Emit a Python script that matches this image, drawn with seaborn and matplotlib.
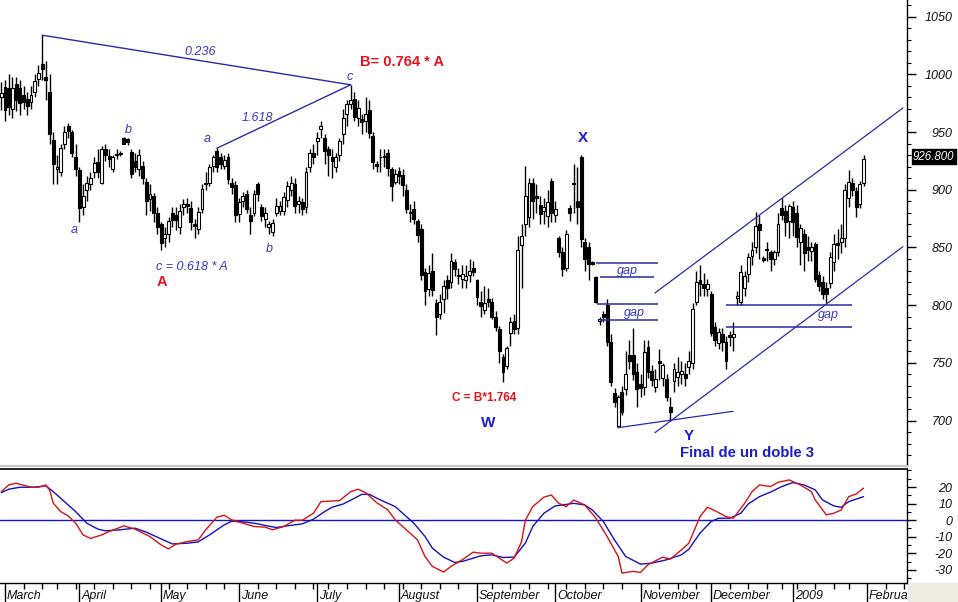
import numpy as np
import pandas as pd
import matplotlib
matplotlib.use("Agg")
import matplotlib.pyplot as plt
import matplotlib.transforms as mtransforms
from matplotlib.patches import Rectangle
from matplotlib.ticker import FixedLocator, MultipleLocator, NullFormatter
import seaborn as sns

sns.set_style("white")
plt.rcParams['font.family'] = ['Liberation Sans', 'DejaVu Sans']

# exchange holidays (no bar on these days)
holidays = ['2008-03-21', '2008-05-26', '2008-07-04', '2008-09-01',
            '2008-11-27', '2008-12-25', '2009-01-01', '2009-01-19']
month_labels = ['March', 'April', 'May', 'June', 'July', 'August', 'September',
                'October', 'November', 'December', '2009', 'February']

# daily candles, 29 Feb 2008 .. 30 Jan 2009
opens = [980, 989, 988, 970, 992, 988, 982, 979, 976, 985,
         996, 1009, 998, 985, 943, 918, 915, 940, 955, 950,
         928, 917, 885, 900, 905, 915, 924, 906, 935, 929,
         918, 930, 931, 945, 944, 933, 925, 918, 921, 907,
         892, 895, 880, 870, 858, 862, 880, 878, 868, 885,
         888, 884, 870, 866, 883, 906, 906, 921, 934, 928,
         921, 928, 906, 904, 879, 890, 896, 878, 880, 905,
         885, 875, 868, 863, 880, 882, 882, 891, 900, 905,
         888, 889, 885, 920, 932, 942, 953, 945, 935, 928,
         920, 930, 948, 966, 974, 979, 962, 961, 960, 969,
         947, 922, 928, 928, 932, 918, 907, 916, 913, 900,
         880, 883, 873, 866, 829, 814, 830, 802, 792, 805,
         822, 820, 837, 826, 823, 822, 826, 832, 822, 803,
         796, 805, 803, 790, 779, 755, 747, 776, 786, 780,
         852, 870, 876, 906, 895, 887, 882, 877, 908, 878,
         858, 846, 832, 884, 905, 890, 928, 855, 850, 837,
         824, 786, 792, 800, 768, 724, 695, 725, 727, 757,
         757, 742, 732, 729, 764, 743, 729, 752, 737, 736,
         712, 734, 738, 740, 740, 746, 750, 803, 822, 818,
         814, 810, 781, 767, 775, 768, 774, 772, 806, 803,
         815, 827, 843, 850, 870, 841, 849, 846, 840, 846,
         884, 882, 873, 885, 880, 855, 862, 850, 847, 853,
         826, 820, 815, 819, 837, 854, 855, 858, 893, 906,
         899, 888, 906]
highs = [993, 995, 1000, 998, 998, 995, 990, 985, 990, 1000,
         1008, 1034, 1012, 1000, 950, 930, 940, 955, 958, 952,
         940, 920, 905, 912, 915, 928, 935, 938, 940, 935,
         930, 935, 934, 946, 945, 935, 932, 935, 925, 910,
         905, 897, 885, 872, 868, 876, 885, 885, 888, 892,
         893, 890, 875, 885, 905, 915, 922, 930, 936, 932,
         930, 932, 910, 908, 893, 898, 900, 885, 900, 907,
         888, 885, 873, 875, 893, 890, 898, 908, 912, 910,
         895, 893, 920, 935, 940, 950, 960, 948, 938, 935,
         932, 945, 970, 978, 991, 985, 978, 966, 980, 978,
         950, 925, 935, 935, 935, 920, 918, 920, 918, 905,
         888, 890, 875, 870, 832, 835, 845, 805, 810, 822,
         826, 845, 840, 832, 835, 835, 840, 838, 823, 812,
         817, 815, 806, 795, 782, 758, 765, 790, 792, 860,
         870, 921, 910, 910, 905, 895, 893, 900, 910, 890,
         860, 850, 865, 887, 922, 920, 930, 858, 855, 838,
         825, 790, 795, 805, 775, 728, 722, 730, 760, 770,
         780, 750, 740, 770, 770, 748, 745, 762, 750, 740,
         720, 750, 755, 752, 750, 760, 802, 830, 835, 828,
         823, 812, 785, 780, 780, 773, 778, 785, 812, 835,
         830, 845, 855, 881, 878, 843, 855, 848, 848, 880,
         893, 887, 888, 890, 887, 870, 866, 860, 855, 855,
         830, 825, 820, 846, 862, 866, 870, 905, 917, 910,
         902, 908, 930]
lows = [969, 960, 965, 962, 968, 965, 970, 965, 970, 980,
        990, 995, 978, 940, 905, 905, 912, 935, 945, 928,
        912, 872, 878, 890, 900, 910, 910, 905, 925, 920,
        915, 927, 929, 940, 939, 910, 915, 912, 905, 878,
        882, 872, 862, 848, 850, 855, 868, 865, 862, 878,
        880, 865, 858, 862, 880, 900, 903, 915, 915, 918,
        918, 905, 896, 872, 872, 885, 880, 862, 877, 890,
        873, 868, 862, 860, 877, 878, 878, 885, 895, 880,
        880, 878, 880, 915, 922, 930, 945, 922, 912, 910,
        915, 925, 940, 955, 970, 960, 955, 948, 950, 945,
        918, 915, 915, 920, 912, 890, 905, 905, 895, 880,
        872, 870, 855, 822, 800, 808, 808, 774, 788, 793,
        805, 815, 825, 818, 815, 815, 820, 825, 800, 790,
        792, 798, 788, 778, 750, 733, 745, 765, 775, 775,
        815, 860, 868, 875, 880, 870, 870, 868, 872, 872,
        842, 825, 830, 873, 880, 870, 850, 830, 822, 835,
        802, 783, 785, 765, 730, 712, 694, 705, 722, 745,
        735, 712, 720, 722, 737, 730, 725, 735, 730, 717,
        700, 725, 730, 732, 730, 740, 745, 800, 808, 808,
        808, 773, 765, 762, 760, 745, 765, 760, 800, 800,
        808, 820, 835, 845, 840, 837, 838, 830, 835, 843,
        874, 860, 858, 860, 850, 835, 830, 838, 838, 820,
        812, 805, 802, 815, 830, 840, 845, 850, 885, 895,
        876, 884, 903]
closes = [984, 969, 972, 988, 978, 975, 976, 973, 982, 994,
          1001, 1005, 995, 948, 922, 920, 936, 950, 951, 932,
          918, 884, 895, 906, 910, 923, 915, 935, 930, 927,
          928, 931, 931, 940, 941, 914, 920, 930, 910, 890,
          896, 880, 868, 854, 862, 873, 874, 874, 882, 888,
          886, 872, 869, 881, 901, 905, 920, 928, 920, 922,
          926, 909, 902, 878, 889, 895, 883, 873, 896, 896,
          877, 880, 870, 871, 886, 886, 894, 903, 906, 886,
          890, 883, 915, 932, 928, 945, 955, 934, 930, 925,
          928, 942, 962, 974, 978, 963, 971, 959, 966, 949,
          924, 921, 928, 929, 919, 903, 914, 912, 904, 883,
          880, 875, 861, 826, 812, 828, 813, 790, 803, 817,
          815, 838, 831, 825, 827, 825, 830, 829, 807, 799,
          802, 803, 790, 781, 760, 742, 763, 785, 779, 848,
          860, 895, 906, 890, 893, 879, 885, 889, 880, 883,
          846, 831, 862, 880, 906, 885, 857, 840, 836, 836,
          803, 788, 790, 768, 733, 716, 720, 707, 740, 752,
          740, 727, 728, 759, 742, 735, 736, 750, 748, 720,
          707, 745, 742, 743, 737, 752, 797, 820, 818, 815,
          818, 776, 770, 777, 768, 752, 772, 775, 808, 829,
          825, 842, 848, 869, 865, 839, 848, 840, 846, 870,
          878, 872, 886, 872, 859, 867, 845, 848, 850, 823,
          817, 810, 810, 842, 853, 852, 858, 900, 907, 900,
          885, 905, 926.8]

# oscillator (red fast line, blue slow line), sampled at trading-day numbers
red_days = [0, 2, 4, 8, 10, 12, 13, 14, 16, 18, 20, 22, 24, 27, 29, 33, 36, 40, 43, 45,
            47, 50, 53, 55, 58, 60, 62, 65, 68, 71, 73, 76, 79, 81, 84, 86, 89, 91, 94, 96,
            98, 101, 104, 106, 109, 112, 114, 116, 119, 121, 124, 127, 129, 132, 134, 136,
            138, 140, 141, 143, 146, 148, 150, 152, 154, 157, 160, 163, 166, 167, 170, 172,
            174, 176, 178, 180, 183, 185, 188, 190, 192, 195, 197, 200, 202, 204, 207, 209,
            212, 215, 218, 219, 222, 224, 226, 228, 230, 232]
red_vals = [17.2, 21.3, 22.3, 19.9, 19.9, 21.3, 18.2, 10.2, 5.2, 2.6, -1.8, -8.9, -11.0,
            -8.9, -6.9, -3.4, -5.4, -9.9, -14.9, -17.3, -14.5, -12.9, -11.9, -5.8, 1.8, 3.0,
            0.2, -1.8, -3.8, -4.2, -5.8, -3.8, 0.0, 0.0, 4.2, 11.2, 11.6, 11.8, 17.2, 18.7,
            16.7, 10.6, 6.2, 0.2, -5.8, -11.9, -21.9, -27.9, -31.3, -27.9, -23.9, -19.3,
            -19.9, -19.9, -22.9, -25.9, -22.9, -12.9, 0.0, 8.2, 13.9, 15.2, 10.2, 8.2, 12.2,
            9.2, 1.2, -9.8, -21.9, -31.9, -30.9, -31.5, -26.9, -24.5, -22.3, -23.5, -17.9,
            -13.9, 2.2, 7.8, 5.8, 2.2, 1.2, 10.2, 17.2, 21.3, 20.3, 22.9, 24.3, 21.3, 17.2,
            12.2, 3.2, 4.2, 6.2, 14.2, 15.8, 19.3]
blue_days = [0, 2, 5, 9, 12, 14, 17, 20, 23, 26, 28, 32, 36, 39, 43, 46, 50, 53, 56, 60,
             62, 66, 69, 71, 74, 77, 81, 84, 87, 89, 92, 95, 97, 99, 102, 106, 108, 111, 114,
             116, 119, 122, 124, 127, 129, 132, 135, 138, 141, 143, 146, 149, 151, 154, 157,
             159, 162, 165, 168, 172, 175, 179, 183, 185, 188, 191, 193, 196, 199, 201, 204,
             207, 210, 213, 216, 219, 221, 224, 226, 228, 232]
blue_vals = [16.6, 18.7, 19.9, 19.9, 20.7, 17.2, 11.2, 5.2, -1.8, -5.4, -6.4, -5.8, -4.8,
             -7.2, -11.3, -14.3, -13.9, -13.1, -8.9, -2.8, -0.6, -1.2, -2.2, -3.2, -4.4, -3.4,
             -2.2, 0.6, 5.2, 7.8, 9.8, 13.2, 15.6, 15.6, 12.2, 8.2, 4.2, -1.8, -9.8, -16.9,
             -22.3, -25.5, -24.9, -22.9, -21.5, -20.9, -22.5, -22.3, -13.9, -3.8, 4.2, 8.6,
             9.2, 10.2, 9.2, 6.2, -0.8, -11.9, -21.9, -26.5, -25.9, -23.9, -20.9, -17.5, -7.8,
             -0.8, 1.2, 1.2, 4.2, 9.8, 14.2, 17.0, 20.3, 22.7, 21.3, 18.3, 12.2, 8.6, 7.8,
             11.2, 14.2]

# gap levels and trend lines (day number, price)
gap_levels = [(836.6, 824.1), (801.1, 787.2), (800.2, 781.0)]
upper_channel = [(175.9, 810.6), (242.6, 970.9)]
lower_channel = [(175.9, 689.5), (242.6, 850.7)]
base_line = [(165.9, 693.8), (196.9, 708.0)]

days = pd.bdate_range('2008-02-29', '2009-02-27', freq='C', holidays=holidays)
n = len(opens)
x = np.arange(n)
o = np.array(opens, float)
c = np.array(closes, float)
h = np.array(highs, float)
l = np.array(lows, float)

month_idx = [i for i in range(1, len(days)) if days[i].month != days[i - 1].month][:12]
week_idx = [i for i in range(1, 244) if days[i].weekday() < days[i - 1].weekday()
            and i not in month_idx]

W, H = 958, 602
fig = plt.figure(figsize=(W / 100, H / 100), dpi=100)
fig.patch.set_facecolor('white')
ax = fig.add_axes([0, 136 / H, 907 / W, 466 / H])
ax2 = fig.add_axes([0, 19 / H, 907 / W, 114 / H])

XL = (-0.35, 243.7)
LINE = '#2a2aa6'
TXT = '#3535cc'
BOLD = '#1c1cc8'
RED = '#e3141c'

# --- candles ---
up = c >= o
body_lo = np.minimum(o, c)
body_h = np.maximum(np.abs(c - o), 0.7)
ax.vlines(x, l, h, color='black', lw=1.0, zorder=2)
ax.bar(x, body_h, bottom=body_lo, width=0.78,
       color=['white' if u else 'black' for u in up],
       edgecolor='black', linewidth=0.8, zorder=3)

# --- wave annotations ---
ax.plot([11, 94], [highs[11], highs[94]], color=LINE, lw=1.0, zorder=4)
ax.plot([58, 94], [highs[58], highs[94]], color=LINE, lw=1.0, zorder=4)
for pts in (upper_channel, lower_channel, base_line):
    ax.plot([p[0] for p in pts], [p[1] for p in pts], color=LINE, lw=0.9, zorder=4)

gap_spans = [((160, 176.7), (161, 175.6)), ((160.3, 176.7), (161, 176.7)),
             ((195, 229), (195, 229))]
for (top, bot), (s1, s2) in zip(gap_levels, gap_spans):
    ax.hlines(top, s1[0], s1[1], color=LINE, lw=1.1, zorder=4)
    ax.hlines(bot, s2[0], s2[1], color=LINE, lw=1.1, zorder=4)

it = dict(color=TXT, fontsize=9, style='italic', ha='center', va='center', zorder=5)
ax.text(53.6, 1019.8, '0.236', **it)
ax.text(68.8, 962.2, '1.618', **it)
ax.text(93.8, 997.7, 'c', **it)
ax.text(55.4, 944.0, 'a', **it)
ax.text(34.1, 951.8, 'b', **it)
ax.text(19.6, 865.2, 'a', **it)
ax.text(72.0, 848.7, 'b', **it)
ax.text(41.6, 833.1, 'c = 0.618 * A', **{**it, 'ha': 'left'})
ax.text(168.4, 830.0, 'gap', **it)
ax.text(170.4, 793.0, 'gap', **it)
ax.text(222.7, 791.2, 'gap', **it)

ax.text(96.5, 1010.7, 'B= 0.764 * A', color=RED, fontsize=10.5, fontweight='bold',
        ha='left', va='center')
ax.text(43.2, 820.5, 'A', color=RED, fontsize=10.5, fontweight='bold', ha='center', va='center')
ax.text(129.9, 719.6, 'C = B*1.764', color=RED, fontsize=8.5, fontweight='bold',
        ha='center', va='center')
bd = dict(color=BOLD, fontsize=11, fontweight='bold', ha='center', va='center')
ax.text(131.0, 697.7, 'W', **bd)
ax.text(156.5, 944.9, 'X', **bd)
ax.text(184.9, 686.6, 'Y', **bd)
ax.text(182.6, 671.5, 'Final de un doble 3', **{**bd, 'ha': 'left', 'fontsize': 10.7})

# last price tag
tr = mtransforms.blended_transform_factory(ax.transAxes, ax.transData)
ax.text(1.0065, 928.6, f'{closes[-1]:.3f}', transform=tr, color='white', fontsize=8.3,
        style='italic', ha='left', va='center', clip_on=False,
        bbox=dict(boxstyle='square,pad=0.12', fc='black', ec='black'))

# --- oscillator ---
ax2.axhline(0, color='#1212c0', lw=1.0)
sns.lineplot(x=blue_days, y=blue_vals, ax=ax2, color='#1212c0', lw=1.0,
             estimator=None, sort=False)
sns.lineplot(x=red_days, y=red_vals, ax=ax2, color='#d41414', lw=1.0,
             estimator=None, sort=False)

# --- axes styling ---
ax.set_xlim(*XL)
ax.set_ylim(660.6, 1064.5)
ax2.set_xlim(*XL)
ax2.set_ylim(-37.9, 30.9)
for a in (ax, ax2):
    a.set_facecolor('white')
    a.set_xlabel('')
    a.set_ylabel('')
    a.spines['left'].set_visible(False)
    a.spines['right'].set_color('black')
    a.spines['right'].set_linewidth(1.0)
ax.spines['top'].set_visible(False)
ax.spines['bottom'].set_color('#c8c8c8')
ax.spines['bottom'].set_linewidth(1.6)
ax2.spines['top'].set_color('black')
ax2.spines['top'].set_linewidth(1.2)
ax2.spines['bottom'].set_color('black')
ax2.spines['bottom'].set_linewidth(1.0)

ax.set_xticks([])
ax.yaxis.tick_right()
ax.set_yticks(range(700, 1051, 50), labels=[str(v) for v in range(700, 1051, 50)],
              ha='right', fontstyle='italic')
ax.yaxis.set_minor_locator(MultipleLocator(10))
ax2.yaxis.tick_right()
ax2.set_yticks(range(-30, 21, 10), labels=[str(v) for v in range(-30, 21, 10)],
               ha='right', fontstyle='italic')
ax2.yaxis.set_minor_locator(MultipleLocator(5))
for a in (ax, ax2):
    a.tick_params(axis='y', which='both', right=True, left=False, labelright=True,
                  labelleft=False, direction='out', color='black', labelcolor='#111111',
                  labelsize=9)
    a.tick_params(axis='y', which='major', length=6.3, width=1.0, pad=26.5)
    a.tick_params(axis='y', which='minor', length=3.2, width=0.8)

ax2.xaxis.set_major_locator(FixedLocator(month_idx))
ax2.xaxis.set_minor_locator(FixedLocator(week_idx))
ax2.xaxis.set_major_formatter(NullFormatter())
ax2.tick_params(axis='x', which='both', bottom=True, top=False, direction='out', color='black')
ax2.tick_params(axis='x', which='major', length=14, width=1.0)
ax2.tick_params(axis='x', which='minor', length=4, width=1.0)

trx = mtransforms.blended_transform_factory(ax2.transData, ax2.transAxes)
for mi, name in zip(month_idx, month_labels):
    ax2.text(mi + 0.5, -0.115, name, transform=trx, ha='left', va='center',
             fontsize=9, style='italic', color='#111111', clip_on=False)

# corner patch that hides the end of the last month name
fig.patches.append(Rectangle((907.5 / W, 0), 51 / W, 19 / H, transform=fig.transFigure,
                             facecolor='#ecebe2', edgecolor='none', zorder=10))

fig.savefig('out.png', dpi=100, facecolor='white')
